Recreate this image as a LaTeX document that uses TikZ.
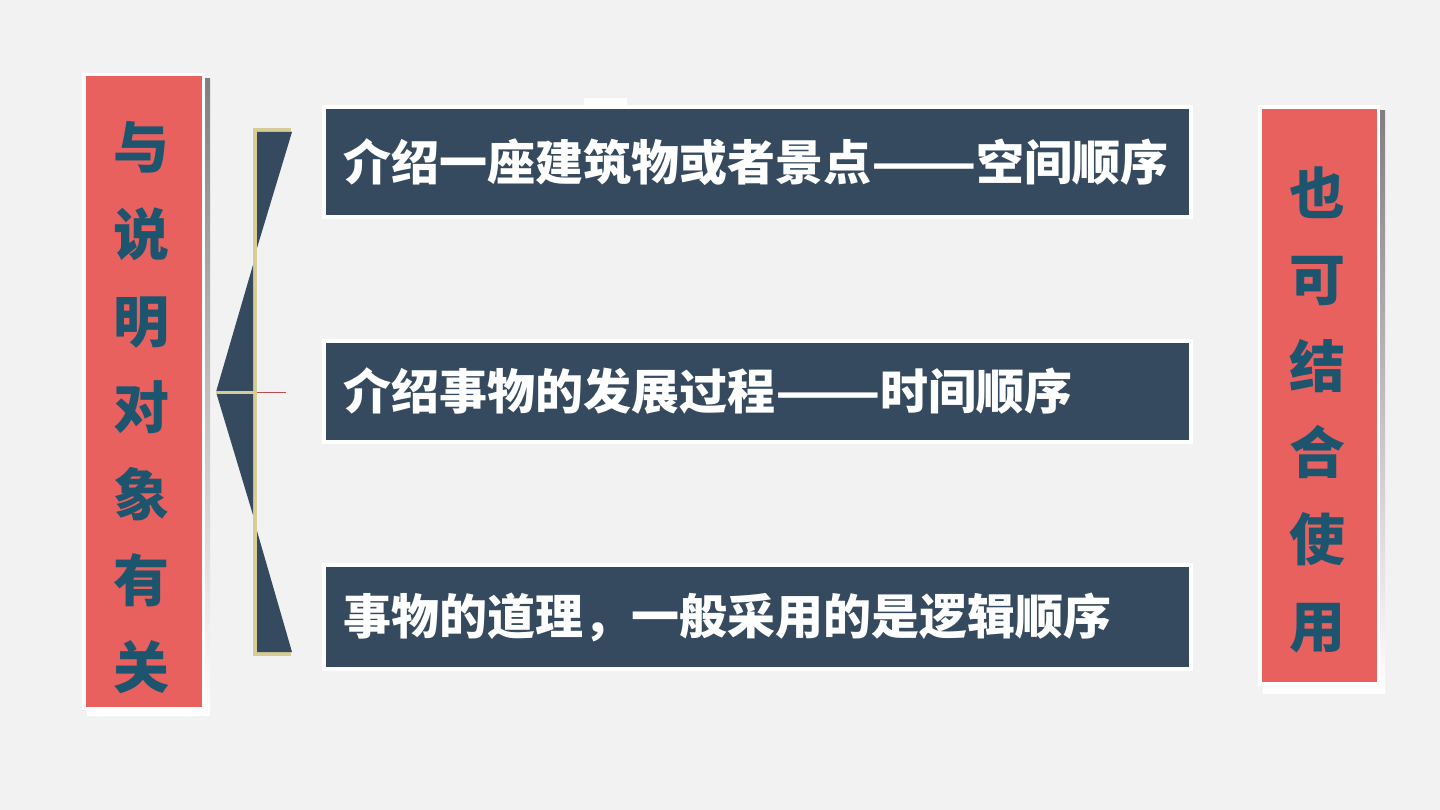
\documentclass[tikz,border=0pt]{standalone}
\usepackage{fontspec}
\newfontfamily\cjk{Noto Sans CJK SC}
\definecolor{paper}{RGB}{242,242,242}
\definecolor{slate}{RGB}{53,74,94}
\definecolor{coral}{RGB}{232,97,95}
\definecolor{teal}{RGB}{30,85,110}
\definecolor{straw}{RGB}{214,204,150}
\definecolor{shade}{RGB}{155,155,155}
\def\longdash{\resizebox{2.2em}{\height}{——}}
\tikzset{
	slatebox/.style={draw=white, line width=3.5pt, fill=slate, minimum width=867pt, inner sep=0pt},
	slatetext/.style={anchor=west, text=white, inner sep=0pt, font=\cjk\bfseries\fontsize{48}{48}\selectfont},
	tagbox/.style={draw=white, line width=3.5pt, fill=coral, inner sep=0pt},
	tagtext/.style={text=teal, align=center, inner sep=0pt, font=\cjk\bfseries\fontsize{56}{86.6}\selectfont}
}

\begin{document}
\begin{tikzpicture}[x=1pt, y=-1pt]
			%%%%% START %%%%%
			
			\fill[paper] (0, 0) rectangle (1440, 810);
			
			% left column
			\fill[shade] (87, 79) rectangle (210, 715);
			\node[tagbox, minimum width=119.5pt, minimum height=634pt] (leftbox) at (143.75, 391.5) {};
			\node[tagtext] (lefttext) at (141, 407.7) {与\\说\\明\\对\\象\\有\\关};
			
			% right column
			\fill[shade] (1263, 111) rectangle (1385, 693);
			\node[tagbox, minimum width=118.5pt, minimum height=577pt] (rightbox) at (1319.25, 395.5) {};
			\node[tagtext] (righttext) at (1317, 409.5) {也\\可\\结\\合\\使\\用};
			
			% bracket
			\draw[line width=4pt, straw] (255, 129) -- (255, 656);
			\draw[line width=4pt, straw] (253, 130) -- (291, 130);
			\draw[line width=4pt, straw] (253, 654) -- (291, 654);
			\fill[slate] (257, 132) -- (292, 132) -- (257, 248) -- cycle;
			\fill[slate] (253, 265) -- (216, 392) -- (253, 515) -- cycle;
			\fill[slate] (257, 531) -- (292, 652) -- (257, 652) -- cycle;
			\draw[line width=3pt, straw] (216, 392) -- (255, 392);
			\draw[line width=0.6pt, coral!80!black] (257, 392) -- (286, 392);
			
			% three boxes
			\fill[white] (584, 98) rectangle (627, 107);
			\node[slatebox, minimum height=110pt] (space) at (757.5, 162) {};
			\node[slatetext] (spacetext) at (343, 162) {介绍一座建筑物或者景点\longdash 空间顺序};
			
			\node[slatebox, minimum height=101pt] (time) at (757.5, 391.5) {};
			\node[slatetext] (timetext) at (343, 391.5) {介绍事物的发展过程\longdash 时间顺序};
			
			\node[slatebox, minimum height=104pt] (logic) at (757.5, 617) {};
			\node[slatetext] (logictext) at (343, 617) {事物的道理，一般采用的是逻辑顺序};
			
			%%%%% END %%%%%
\end{tikzpicture}
\end{document}
